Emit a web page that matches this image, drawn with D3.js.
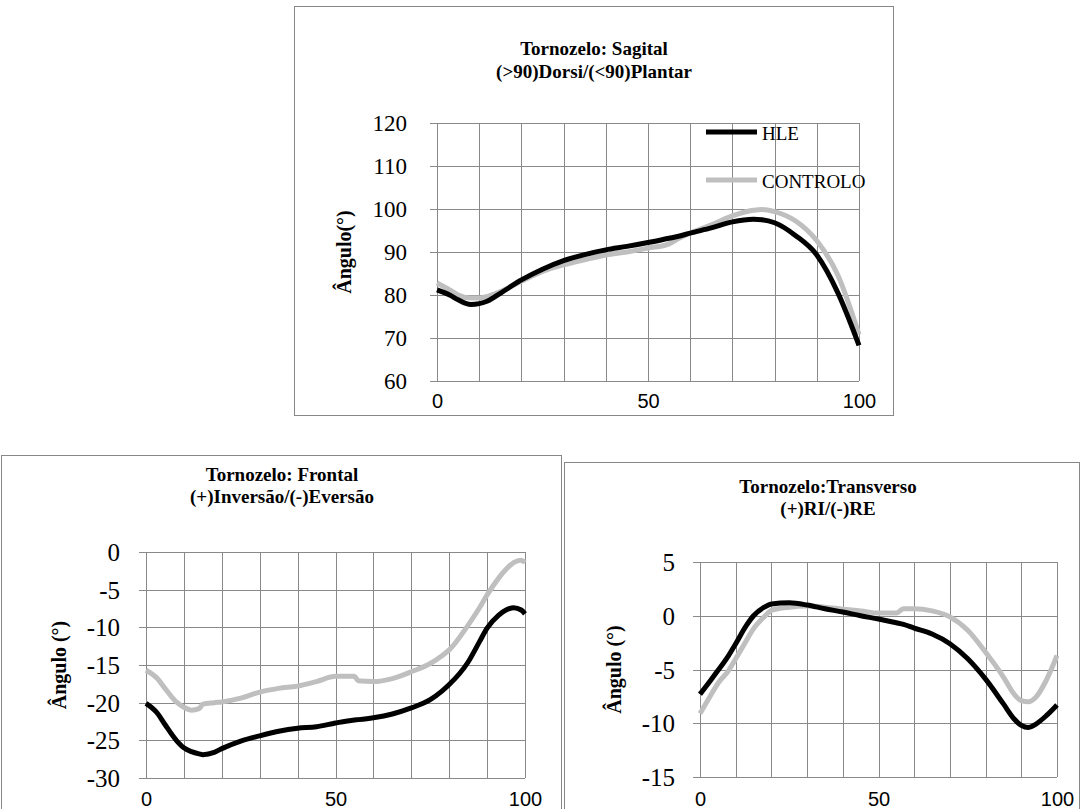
<!DOCTYPE html>
<html>
<head>
<meta charset="utf-8">
<script src="https://cdn.jsdelivr.net/npm/d3@7/dist/d3.min.js"></script>
<style>
  body { margin: 0; background: #fff; }
  svg { display: block; }
  .grid line { stroke: #898989; stroke-width: 1; shape-rendering: crispEdges; }
  .frame { fill: none; stroke: #878787; stroke-width: 1; shape-rendering: crispEdges; }
</style>
</head>
<body>
<div id="chart"></div>
<script>
// gait cycle (%) sample points and angles
var sagitalPct = [0, 3, 5, 8, 10, 12, 15, 20, 25, 30, 35, 40, 45, 50, 55, 57, 60, 65, 70, 75, 77, 80, 85, 90, 95, 100];
var sagitalHLE = [81.2, 80.0, 78.9, 77.8, 78.0, 78.6, 80.4, 83.5, 86.0, 88.0, 89.4, 90.5, 91.3, 92.2, 93.2, 93.6, 94.4, 95.6, 97.0, 97.6, 97.5, 96.8, 93.8, 89.3, 80.5, 68.3];
var sagitalControlo = [82.8, 81.2, 80.0, 79.3, 79.3, 79.7, 80.8, 83.2, 85.5, 87.0, 88.2, 89.3, 90.0, 90.9, 91.9, 93.0, 94.4, 96.3, 98.4, 99.7, 99.9, 99.4, 97.2, 92.6, 84.6, 70.8];

var frontalPct = [0, 3, 5, 8, 10, 12, 14, 15, 18, 20, 25, 30, 35, 40, 45, 50, 55, 56, 60, 65, 70, 75, 78, 80, 85, 88, 90, 93, 95, 97, 99, 100];
var frontalHLE = [-20.1, -21.4, -22.9, -25.0, -26.0, -26.5, -26.8, -26.9, -26.6, -26.1, -25.1, -24.4, -23.8, -23.4, -23.2, -22.7, -22.3, -22.25, -22.0, -21.5, -20.7, -19.6, -18.5, -17.6, -14.6, -11.9, -10.1, -8.4, -7.7, -7.4, -7.7, -8.2];
var frontalControlo = [-15.7, -16.8, -18.1, -19.9, -20.6, -21.0, -20.8, -20.2, -20.0, -19.9, -19.4, -18.6, -18.1, -17.8, -17.2, -16.5, -16.5, -17.1, -17.2, -16.8, -15.9, -14.8, -13.8, -13.0, -9.7, -7.4, -5.7, -3.5, -2.3, -1.4, -1.1, -1.4];

var transPct = [0, 3, 5, 8, 10, 13, 15, 18, 20, 25, 30, 35, 40, 45, 50, 55, 57, 60, 65, 70, 75, 80, 85, 88, 90, 92, 94, 97, 100];
var transHLE = [-7.3, -6.0, -5.1, -3.7, -2.6, -0.9, 0.0, 0.8, 1.1, 1.2, 1.0, 0.65, 0.35, 0.0, -0.3, -0.65, -0.8, -1.15, -1.7, -2.6, -4.0, -5.9, -8.2, -9.6, -10.2, -10.4, -10.1, -9.3, -8.3];
var transControlo = [-9.1, -7.4, -6.3, -5.1, -4.0, -2.3, -1.2, -0.1, 0.5, 0.8, 0.9, 0.8, 0.6, 0.45, 0.25, 0.25, 0.65, 0.65, 0.45, -0.1, -1.35, -3.4, -5.7, -7.3, -7.9, -8.0, -7.6, -6.0, -3.7];

var xTicks = [0, 50, 100];
var xGrid = [0, 10, 20, 30, 40, 50, 60, 70, 80, 90, 100];
var sagitalTicks = [60, 70, 80, 90, 100, 110, 120];
var frontalTicks = [-30, -25, -20, -15, -10, -5, 0];
var transTicks = [-15, -10, -5, 0, 5];

var seriesNames = ['HLE', 'CONTROLO'];
var seriesColors = ['#000000', '#bfbfbf'];

var svg = d3.select('#chart').append('svg')
  .attr('width', 1080)
  .attr('height', 809);

function LineChart(params) {
  var attrs = Object.assign({
    box: null,
    plot: null,
    titles: [],
    titleX: 0,
    titleY: [],
    yLabel: '',
    yLabelX: 0,
    yDomain: [0, 1],
    yTicks: [],
    yTickRight: 0,
    yTickSize: 22,
    xBase: 0,
    x: [],
    series: [],
    legend: null
  }, params);

  var g = svg.append('g');

  g.append('rect')
    .attr('class', 'frame')
    .attr('x', attrs.box.x + 0.5)
    .attr('y', attrs.box.y + 0.5)
    .attr('width', attrs.box.w)
    .attr('height', attrs.box.h);

  var x = d3.scaleLinear().domain([0, 100]).range([attrs.plot.l, attrs.plot.r]);
  var y = d3.scaleLinear().domain(attrs.yDomain).range([attrs.plot.b, attrs.plot.t]);

  // title
  attrs.titles.forEach(function (t, i) {
    g.append('text')
      .attr('x', attrs.titleX)
      .attr('y', attrs.titleY[i])
      .attr('text-anchor', 'middle')
      .style('font-family', '"Liberation Serif", serif')
      .style('font-weight', 'bold')
      .style('font-size', '19px')
      .text(t);
  });

  // grid
  var grid = g.append('g').attr('class', 'grid');
  grid.selectAll('.hg').data(attrs.yTicks).enter().append('line')
    .attr('x1', attrs.plot.l - 7)
    .attr('x2', attrs.plot.r)
    .attr('y1', function (d) { return Math.round(y(d)) + 0.5; })
    .attr('y2', function (d) { return Math.round(y(d)) + 0.5; });
  grid.selectAll('.vg').data(xGrid).enter().append('line')
    .attr('y1', attrs.plot.t)
    .attr('y2', attrs.plot.b)
    .attr('x1', function (d) { return Math.round(x(d)) + 0.5; })
    .attr('x2', function (d) { return Math.round(x(d)) + 0.5; });

  // y axis labels (plain hyphen for negatives, as in the original)
  var yAxis = d3.axisLeft(y).tickValues(attrs.yTicks).tickSize(0).tickPadding(0)
    .tickFormat(function (d) { return String(d); });
  var ya = g.append('g')
    .attr('transform', 'translate(' + attrs.yTickRight + ',0)')
    .call(yAxis);
  ya.select('.domain').remove();
  ya.selectAll('text')
    .attr('dy', '0.34em')
    .style('font-family', '"Liberation Serif", serif')
    .style('font-size', attrs.yTickSize + 'px')
    .style('fill', '#000');

  // x axis labels
  var xAxis = d3.axisBottom(x).tickValues(xTicks).tickSize(0).tickPadding(0);
  var xa = g.append('g')
    .attr('transform', 'translate(0,' + attrs.xBase + ')')
    .call(xAxis);
  xa.select('.domain').remove();
  xa.selectAll('text')
    .attr('dy', 0)
    .style('font-family', '"Liberation Sans", Arial, sans-serif')
    .style('font-size', '20px')
    .style('fill', '#000');

  // y axis title
  var cy = (attrs.plot.t + attrs.plot.b) / 2;
  g.append('text')
    .attr('transform', 'translate(' + attrs.yLabelX + ',' + cy + ') rotate(-90)')
    .attr('text-anchor', 'middle')
    .attr('dy', '0.35em')
    .style('font-family', '"Liberation Serif", serif')
    .style('font-weight', 'bold')
    .style('font-size', '20px')
    .text(attrs.yLabel);

  // lines
  var line = d3.line()
    .x(function (d) { return x(d[0]); })
    .y(function (d) { return y(d[1]); })
    .curve(d3.curveMonotoneX);

  attrs.series.slice().reverse().forEach(function (s) {
    g.append('path')
      .datum(attrs.x.map(function (p, i) { return [p, s.values[i]]; }))
      .attr('fill', 'none')
      .attr('stroke', s.color)
      .attr('stroke-width', 5)
      .attr('stroke-linejoin', 'round')
      .attr('d', line);
  });

  // legend
  if (attrs.legend) {
    var lg = g.append('g');
    attrs.series.forEach(function (s, i) {
      var ly = attrs.legend.y + i * attrs.legend.step;
      lg.append('line')
        .attr('x1', attrs.legend.x)
        .attr('x2', attrs.legend.x + 51)
        .attr('y1', ly)
        .attr('y2', ly)
        .attr('stroke', s.color)
        .attr('stroke-width', 5);
      lg.append('text')
        .attr('x', attrs.legend.x + 56)
        .attr('y', ly + 8)
        .style('font-family', '"Liberation Serif", serif')
        .style('font-size', '19px')
        .text(s.name);
    });
  }
}

LineChart({
  box: { x: 294, y: 6, w: 599, h: 409 },
  plot: { l: 437, r: 859, t: 123, b: 381 },
  titles: ['Tornozelo: Sagital', '(>90)Dorsi/(<90)Plantar'],
  titleX: 594,
  titleY: [55, 78],
  yLabel: 'Ângulo(°)',
  yLabelX: 344,
  yDomain: [60, 120],
  yTicks: sagitalTicks,
  yTickRight: 407,
  yTickSize: 23,
  xBase: 408,
  x: sagitalPct,
  series: [
    { name: seriesNames[0], color: seriesColors[0], values: sagitalHLE },
    { name: seriesNames[1], color: seriesColors[1], values: sagitalControlo }
  ],
  legend: { x: 706, y: 132, step: 48 }
});

LineChart({
  box: { x: 1, y: 455, w: 560, h: 380 },
  plot: { l: 146, r: 525, t: 552, b: 778 },
  titles: ['Tornozelo: Frontal', '(+)Inversão/(-)Eversão'],
  titleX: 282,
  titleY: [481, 503],
  yLabel: 'Ângulo (°)',
  yLabelX: 59,
  yDomain: [-30, 0],
  yTicks: frontalTicks,
  yTickRight: 120,
  yTickSize: 25,
  xBase: 806,
  x: frontalPct,
  series: [
    { name: seriesNames[0], color: seriesColors[0], values: frontalHLE },
    { name: seriesNames[1], color: seriesColors[1], values: frontalControlo }
  ]
});

LineChart({
  box: { x: 564, y: 462, w: 515, h: 380 },
  plot: { l: 700, r: 1057, t: 562, b: 777 },
  titles: ['Tornozelo:Transverso', '(+)RI/(-)RE'],
  titleX: 828,
  titleY: [493, 515],
  yLabel: 'Ângulo (°)',
  yLabelX: 614,
  yDomain: [-15, 5],
  yTicks: transTicks,
  yTickRight: 675,
  yTickSize: 25,
  xBase: 806,
  x: transPct,
  series: [
    { name: seriesNames[0], color: seriesColors[0], values: transHLE },
    { name: seriesNames[1], color: seriesColors[1], values: transControlo }
  ]
});
</script>
</body>
</html>
